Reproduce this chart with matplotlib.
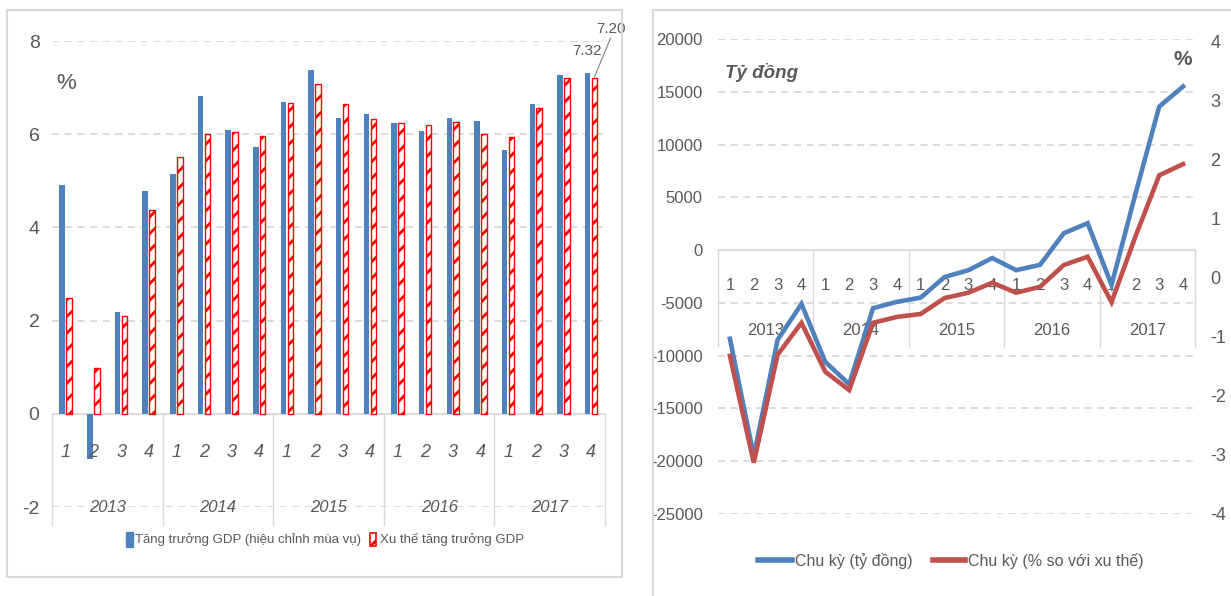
import numpy as np
import matplotlib
matplotlib.use('Agg')
import matplotlib.pyplot as plt
from matplotlib.patches import Rectangle
from matplotlib.lines import Line2D

plt.rcParams['font.family'] = ['Liberation Sans', 'DejaVu Sans']
plt.rcParams['axes.unicode_minus'] = False
plt.rcParams['hatch.linewidth'] = 2.0

# quarterly data 2013-2017
quarters = ['1', '2', '3', '4'] * 5
years = ['2013', '2014', '2015', '2016', '2017']

# GDP growth, seasonally adjusted vs trend (%)
gdp_sa = [4.91, -0.97, 2.19, 4.79, 5.15, 6.82, 6.09, 5.73, 6.70, 7.38,
          6.35, 6.44, 6.24, 6.06, 6.35, 6.29, 5.66, 6.65, 7.28, 7.32]
gdp_trend = [2.49, 0.99, 2.10, 4.38, 5.52, 6.01, 6.05, 5.97, 6.68, 7.08,
             6.65, 6.33, 6.24, 6.19, 6.27, 6.00, 5.93, 6.57, 7.20, 7.20]

# output cycle: billion VND and % deviation from trend
cycle_bn = [-8400, -19500, -8500, -5100, -10600, -12700, -5500, -4900, -4500, -2550,
            -1900, -750, -1900, -1400, 1600, 2550, -3300, 5300, 13600, 15500]
cycle_pct = [-1.32, -3.13, -1.30, -0.76, -1.59, -1.90, -0.76, -0.66, -0.61, -0.34,
             -0.25, -0.08, -0.25, -0.15, 0.22, 0.36, -0.41, 0.70, 1.74, 1.93]

W, H = 1231, 596
gray = '#595959'
grid = '#d9d9d9'
blue = '#4F81BD'
red_bar = '#FF0000'
red_line = '#C0504D'


def fx(px):
    return px / W


def fy(py):
    return 1 - py / H


fig = plt.figure(figsize=(W / 100, H / 100), dpi=100)

# panel frames
fig.patches.append(Rectangle((fx(7), fy(577)), fx(622) - fx(7), fy(10) - fy(577),
                             transform=fig.transFigure, fill=False, ec=grid, lw=1.5))
fig.patches.append(Rectangle((fx(653), fy(600)), fx(1235) - fx(653), fy(10) - fy(600),
                             transform=fig.transFigure, fill=False, ec=grid, lw=1.5))

x = np.arange(20)
bounds = [-0.5, 3.5, 7.5, 11.5, 15.5, 19.5]

# ---- left: GDP growth bars ----
ax1 = fig.add_axes([fx(52), fy(507), fx(605) - fx(52), fy(41) - fy(507)])
ax1.set_xlim(-0.5, 19.5)
ax1.set_ylim(-2, 8)
for v in [-2, 2, 4, 6, 8]:
    ax1.axhline(v, color=grid, ls=(0, (4, 3)), lw=1.3, zorder=0)
ax1.axhline(0, color=grid, lw=1.3, zorder=1)
ax1.bar(x - 0.13, gdp_sa, 0.2, color=blue, zorder=2)
ax1.bar(x + 0.12, gdp_trend, 0.2, facecolor='white', edgecolor=red_bar,
        hatch='//', lw=1, zorder=2)
ax1.set_xticks([])
ax1.set_yticks([-2, 0, 2, 4, 6, 8])
ax1.tick_params(axis='y', length=0, pad=9, labelsize=14, labelcolor=gray)
for s in ax1.spines.values():
    s.set_visible(False)
for i, q in enumerate(quarters):
    ax1.text(i, -0.84, q, ha='center', va='center', style='italic', size=13, color=gray)
for k, yr in enumerate(years):
    ax1.text(4 * k + 1.5, -2.02, yr, ha='center', va='center', style='italic', size=12, color=gray)
for b in bounds:
    ax1.plot([b, b], [0, -2.38], color=grid, lw=1, clip_on=False)
ax1.text(0.0, 7.08, '%', ha='center', va='center', size=16, color=gray)

# value labels for the last quarter
ax1.text(18.85, 7.79, '%.2f' % gdp_sa[-1], ha='center', va='center', size=11, color=gray)
ax1.text(19.7, 8.26, '%.2f' % gdp_trend[-1], ha='center', va='center', size=11, color=gray,
         clip_on=False)
ax1.plot([19.7, 19.12], [8.06, gdp_trend[-1] + 0.03], color='#7f7f7f', lw=0.8, clip_on=False)

# legend
fig.patches.append(Rectangle((fx(126), fy(547)), fx(133) - fx(126), fy(532) - fy(547),
                             transform=fig.transFigure, color=blue))
fig.text(fx(135), fy(540), 'Tăng trưởng GDP (hiệu chỉnh mùa vụ)', ha='left', va='center',
         size=9.5, color=gray)
fig.patches.append(Rectangle((fx(370), fy(546)), fx(376) - fx(370), fy(533) - fy(546),
                             transform=fig.transFigure, facecolor='white', edgecolor=red_bar,
                             hatch='//', lw=1.2))
fig.text(fx(380), fy(540), 'Xu thế tăng trưởng GDP', ha='left', va='center',
         size=9.5, color=gray)

# ---- right: output cycle lines ----
ax2 = fig.add_axes([fx(718), fy(514), fx(1195) - fx(718), fy(39) - fy(514)])
ax2.set_xlim(-0.5, 19.5)
ax2.set_ylim(-25000, 20000)
for v in [-25000, -20000, -15000, -10000, -5000, 5000, 10000, 15000, 20000]:
    ax2.axhline(v, color=grid, ls=(0, (4, 3)), lw=1.3, zorder=0)
ax2.axhline(0, color=grid, lw=1.3, zorder=1)
ax2.plot(x, cycle_bn, color=blue, lw=3.3, zorder=3, solid_joinstyle='miter')
ax2.set_xticks([])
ax2.set_yticks(np.arange(-25000, 20001, 5000))
ax2.tick_params(axis='y', length=0, pad=11, labelsize=12, labelcolor=gray)
for s in ax2.spines.values():
    s.set_visible(False)
for i, q in enumerate(quarters):
    ax2.text(i, -3330, q, ha='center', va='center', size=12, color=gray, zorder=2)
for k, yr in enumerate(years):
    ax2.text(4 * k + 1.5, -7620, yr, ha='center', va='center', size=12, color=gray, zorder=2)
for b in bounds:
    ax2.plot([b, b], [0, -9050], color=grid, lw=1, clip_on=False, zorder=1)
ax2.text(-0.21, 16860, 'Tỷ đồng', ha='left', va='center', size=13.5,
         style='italic', weight='bold', color=gray)

ax3 = ax2.twinx()
ax3.set_xlim(-0.5, 19.5)
ax3.set_ylim(-3.98, 4.05)
ax3.plot(x, cycle_pct, color=red_line, lw=3.3, solid_joinstyle='miter')
ax3.set_yticks(np.arange(-4, 5, 1))
ax3.tick_params(axis='y', length=0, pad=11, labelsize=13, labelcolor=gray)
for s in ax3.spines.values():
    s.set_visible(False)
ax3.text(19.0, 3.7, '%', ha='center', va='center', size=15, weight='bold', color=gray)

# legend
fig.add_artist(Line2D([fx(758), fx(792)], [fy(560), fy(560)], transform=fig.transFigure,
                      color=blue, lw=4))
fig.text(fx(795), fy(561), 'Chu kỳ (tỷ đồng)', ha='left', va='center', size=11.5, color=gray)
fig.add_artist(Line2D([fx(933), fx(965)], [fy(560), fy(560)], transform=fig.transFigure,
                      color=red_line, lw=4))
fig.text(fx(968), fy(561), 'Chu kỳ (% so với xu thế)', ha='left', va='center', size=11.5, color=gray)

fig.savefig('out.png', dpi=100)
